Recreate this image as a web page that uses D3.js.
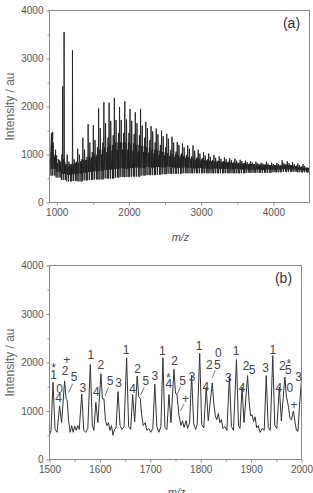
<!DOCTYPE html>
<html lang="en">
<head>
<meta charset="UTF-8">
<title>MALDI spectra</title>
<script src="https://cdn.jsdelivr.net/npm/d3@7/dist/d3.min.js"></script>
<style>
  body { margin: 0; background: #fff; }
  svg { font-family: "Liberation Sans", Arial, sans-serif; }
</style>
</head>
<body>
<svg width="313" height="493" id="main"></svg>
<script>
// ---- panel (a): full spectrum, one oligomer group every ~72.6 m/z ----
const groupMzA = [927, 999, 1072, 1145, 1217, 1290, 1362, 1435, 1507, 1580,
  1653, 1725, 1798, 1870, 1943, 2015, 2088, 2161, 2233, 2306,
  2378, 2451, 2524, 2596, 2669, 2741, 2814, 2887, 2959, 3032,
  3104, 3177, 3250, 3322, 3395, 3467, 3540, 3613, 3685, 3758,
  3830, 3903, 3976, 4048, 4121, 4193, 4266, 4339, 4411, 4484];
const peak1A = [1450, 980, 1000, 1000, 1050, 1120, 1350, 1630, 1610, 1960,
  2090, 2080, 2180, 1990, 2110, 1950, 1880, 1950, 1680, 1590,
  1540, 1500, 1430, 1370, 1260, 1230, 1190, 1190, 1100, 1050,
  1020, 990, 960, 940, 920, 910, 890, 870, 860, 850,
  830, 850, 830, 820, 880, 860, 840, 810, 800, 720];
const peak2A = [1250, 900, 900, 850, 900, 1000, 1100, 1250, 1300, 1550,
  1650, 1700, 1720, 1720, 1730, 1700, 1650, 1600, 1550, 1480,
  1420, 1380, 1330, 1250, 1200, 1150, 1120, 1080, 1020, 980,
  950, 930, 910, 900, 880, 870, 860, 840, 830, 820,
  810, 810, 800, 800, 820, 820, 800, 780, 760, 700];
const peak3A = [1100, 850, 800, 800, 850, 900, 950, 1050, 1150, 1250,
  1350, 1400, 1450, 1450, 1450, 1420, 1400, 1350, 1300, 1250,
  1200, 1150, 1100, 1060, 1020, 990, 960, 940, 920, 900,
  880, 870, 860, 850, 840, 830, 820, 810, 800, 790,
  790, 780, 780, 770, 790, 780, 770, 750, 730, 690];
const peak4A = [1000, 820, 780, 750, 800, 820, 880, 950, 1000, 1100,
  1150, 1200, 1250, 1250, 1250, 1230, 1200, 1180, 1150, 1100,
  1080, 1050, 1030, 1000, 980, 960, 940, 920, 900, 880,
  870, 860, 850, 840, 830, 820, 810, 800, 800, 790,
  780, 780, 770, 770, 790, 780, 760, 740, 720, 690];
const noiseA = [950, 880, 840, 800, 830, 860, 880, 920, 960, 1000,
  1050, 1080, 1100, 1100, 1100, 1080, 1060, 1050, 1040, 1020,
  1000, 980, 970, 950, 930, 920, 900, 890, 880, 870,
  860, 850, 840, 830, 820, 820, 810, 800, 800, 790,
  790, 780, 780, 770, 790, 780, 760, 740, 720, 690];
const lowA = [560, 520, 470, 440, 450, 440, 460, 470, 480, 480,
  500, 500, 520, 530, 530, 540, 540, 560, 570, 570,
  580, 590, 600, 600, 600, 610, 610, 610, 610, 610,
  610, 610, 610, 610, 610, 610, 610, 620, 620, 620,
  620, 620, 630, 630, 640, 640, 640, 630, 630, 620];
const low2A = [700, 640, 600, 580, 590, 600, 620, 640, 650, 660,
  680, 690, 700, 710, 700, 720, 730, 720, 740, 730,
  740, 730, 740, 730, 720, 730, 720, 710, 720, 710,
  700, 710, 700, 700, 690, 700, 690, 690, 680, 690,
  680, 690, 680, 690, 700, 690, 690, 680, 670, 650];
// peak pattern inside one group (offset from peak "1")
const offsetA = [-6, 0, 5, 13, 18, 23, 28, 34, 41, 46, 51, 54, 57, 62];
const levelA = ["low", "p1", "low2", "p4", "low", "p2", "noise", "low2", "noise", "low", "p4", "low2", "p3", "low"];
// isolated strong peaks at low mass
const spikeMz = [900, 944, 1083, 1102, 1218];
const spikeI = [1400, 1470, 2420, 3550, 3170];

// ---- panel (b): zoom 1500-2000 ----
const mzB = [1500, 1503, 1507, 1511, 1515, 1520, 1524, 1530, 1533, 1535, 1538, 1541, 1544, 1547, 1550,
  1553, 1556, 1559, 1564, 1568, 1572, 1576, 1581, 1585, 1588, 1592, 1596, 1602, 1605, 1608,
  1611, 1614, 1617, 1620, 1623, 1626, 1629, 1632, 1636, 1640, 1644, 1648, 1653, 1657, 1661,
  1665, 1669, 1674, 1677, 1680, 1683, 1686, 1690, 1693, 1697, 1701, 1705, 1709, 1713, 1717,
  1721, 1725, 1729, 1733, 1737, 1741, 1747, 1750, 1753, 1757, 1761, 1764, 1767, 1771, 1774,
  1778, 1782, 1786, 1790, 1793, 1798, 1802, 1806, 1811, 1815, 1819, 1823, 1826, 1829, 1832,
  1835, 1838, 1841, 1844, 1848, 1852, 1857, 1861, 1865, 1871, 1875, 1878, 1882, 1886, 1893,
  1896, 1899, 1902, 1905, 1908, 1911, 1914, 1918, 1922, 1926, 1930, 1934, 1938, 1943, 1947,
  1951, 1956, 1960, 1967, 1970, 1974, 1977, 1980, 1984, 1987, 1990, 1993, 1996, 2000];
const intB = [500, 600, 1590, 620, 560, 1100, 760, 1620, 1250, 1230, 800, 560, 700, 560, 690,
  600, 700, 620, 1350, 600, 560, 640, 1960, 700, 600, 1180, 760, 1770, 1250, 1250,
  800, 700, 760, 600, 700, 500, 620, 650, 1400, 700, 620, 680, 2100, 680, 620,
  1340, 780, 1720, 1300, 1260, 900, 700, 760, 600, 640, 560, 640, 1550, 680, 560,
  680, 2100, 660, 620, 1340, 760, 1860, 1370, 1330, 900, 700, 800, 660, 800, 640,
  760, 1740, 740, 620, 720, 2190, 720, 650, 1490, 800, 1200, 1580, 1150, 900, 820,
  950, 760, 820, 640, 680, 600, 1730, 680, 600, 2060, 700, 640, 1490, 760, 1730,
  1200, 900, 920, 780, 880, 650, 700, 560, 640, 600, 1730, 660, 600, 2140, 700,
  640, 1490, 800, 1700, 1300, 1100, 850, 820, 1000, 780, 600, 580, 1100, 1650];
// peak annotations: label, m/z, intensity of label centre
const labelTxt = ["*", "1", "+", "2", "5", "0", "4", "3", "1", "4", "2", "5", "3", "1", "4", "2", "5",
  "3", "1", "*", "4", "2", "5", "+", "3", "1", "4", "2", "0", "5", "3", "1", "4", "2", "5",
  "3", "1", "4", "2", "*", "5", "0", "+", "3"];
const labelMz = [1508, 1508, 1534, 1531, 1549, 1520, 1518, 1566, 1582, 1593, 1602, 1620, 1637, 1652, 1665, 1675, 1691,
  1709, 1724, 1736, 1737, 1748, 1764, 1770, 1783, 1797, 1810, 1817, 1835, 1833, 1855, 1870, 1882, 1890, 1902,
  1929, 1943, 1955, 1962, 1975, 1974, 1977, 1985, 1994];
const labelI = [2000, 1744, 2050, 1840, 1703, 1470, 1265, 1484, 2155, 1395, 1963, 1621, 1587, 2271, 1464, 1881, 1621,
  1724, 2250, 1790, 1553, 2032, 1621, 1259, 1703, 2339, 1498, 1963, 2202, 1963, 1690, 2237, 1484, 1929, 1860,
  1895, 2257, 1484, 1929, 2066, 1860, 1484, 1122, 1703];
// short leader strokes: [m/z, I] start -> end
const leaderFrom = [[1546, 1565], [1617, 1490], [1688, 1490], [1760, 1500], [1767, 1150], [1829, 1840]];
const leaderTo = [[1538, 1380], [1610, 1310], [1681, 1330], [1753, 1340], [1760, 1000], [1823, 1680]];

const tickColor = "#555", frameColor = "#8a8a8a";
const svg = d3.select("#main");

function buildA() {
  const pts = [];
  groupMzA.forEach((g, i) => {
    const lv = {low: lowA[i], low2: low2A[i], p1: peak1A[i], p2: peak2A[i], p3: peak3A[i],
      p4: peak4A[i], noise: noiseA[i]};
    offsetA.forEach((o, k) => pts.push([g + o, lv[levelA[k]]]));
  });
  spikeMz.forEach((m, i) => pts.push([m, spikeI[i]]));
  return pts.sort((a, b) => a[0] - b[0]);
}

function panel(cfg) {
  const x = d3.scaleLinear().domain(cfg.xDomain).range([cfg.left, cfg.right]);
  const y = d3.scaleLinear().domain([0, 4000]).range([cfg.bottom, cfg.top]);
  const g = svg.append("g");

  g.append("clipPath").attr("id", cfg.id)
    .append("rect").attr("x", cfg.left).attr("y", cfg.top)
    .attr("width", cfg.right - cfg.left).attr("height", cfg.bottom - cfg.top);

  g.append("path")
    .datum(cfg.data)
    .attr("clip-path", `url(#${cfg.id})`)
    .attr("fill", "none")
    .attr("stroke", cfg.stroke)
    .attr("stroke-width", cfg.strokeWidth)
    .attr("stroke-linejoin", "round")
    .attr("d", d3.line().x(d => x(d[0])).y(d => y(d[1])));

  // frame
  g.append("rect").attr("x", cfg.left).attr("y", cfg.top)
    .attr("width", cfg.right - cfg.left).attr("height", cfg.bottom - cfg.top)
    .attr("fill", "none").attr("stroke", frameColor).attr("stroke-width", 1);

  const style = a => a
    .call(s => s.select(".domain").remove())
    .call(s => s.selectAll("line").attr("stroke", frameColor))
    .call(s => s.selectAll("text").attr("fill", tickColor).attr("font-size", 10));

  g.append("g").attr("transform", `translate(0,${cfg.bottom})`)
    .call(d3.axisBottom(x).tickValues(cfg.xTicks).tickFormat(d3.format("d")).tickSize(3).tickPadding(3)).call(style);
  g.append("g").attr("transform", `translate(0,${cfg.bottom})`)
    .call(d3.axisBottom(x).tickValues(cfg.xMinor).tickFormat("").tickSize(2)).call(style);
  g.append("g").attr("transform", `translate(${cfg.left},0)`)
    .call(d3.axisLeft(y).tickValues([0, 1000, 2000, 3000, 4000]).tickFormat(d3.format("d")).tickSize(3).tickPadding(3)).call(style);
  g.append("g").attr("transform", `translate(${cfg.left},0)`)
    .call(d3.axisLeft(y).tickValues([500, 1500, 2500, 3500]).tickFormat("").tickSize(2)).call(style);

  g.append("text")
    .attr("transform", `translate(14,${(cfg.top + cfg.bottom) / 2}) rotate(-90)`)
    .attr("text-anchor", "middle").attr("fill", "#666").attr("font-size", 12)
    .text("Intensity / au");
  g.append("text")
    .attr("x", (cfg.left + cfg.right) / 2 + 1).attr("y", cfg.xTitleY)
    .attr("text-anchor", "middle").attr("fill", "#555").attr("font-size", 11)
    .attr("font-style", "italic").text("m/z");
  g.append("text")
    .attr("x", cfg.right - 18).attr("y", cfg.top + 17)
    .attr("text-anchor", "middle").attr("fill", "#333").attr("font-size", 14)
    .text(cfg.tag);
  return {x, y, g};
}

panel({id: "clipA", xDomain: [900, 4500], left: 49.5, right: 309.5, top: 10.5, bottom: 202.5,
  xTicks: [1000, 2000, 3000, 4000], xMinor: [1500, 2500, 3500], xTitleY: 241,
  data: buildA(), stroke: "#1e1e1e", strokeWidth: 0.9, tag: "(a)"});

const pb = panel({id: "clipB", xDomain: [1500, 2000], left: 49.5, right: 301.5, top: 265.5, bottom: 459.5,
  xTicks: [1500, 1600, 1700, 1800, 1900, 2000], xMinor: [1550, 1650, 1750, 1850, 1950], xTitleY: 496,
  data: mzB.map((m, i) => [m, intB[i]]), stroke: "#333", strokeWidth: 1, tag: "(b)"});

pb.g.append("g").selectAll("text")
  .data(labelTxt.map((t, i) => ({t, m: labelMz[i], v: labelI[i]})))
  .join("text")
  .attr("x", d => pb.x(d.m)).attr("y", d => pb.y(d.v))
  .attr("dy", d => d.t === "*" ? "0.75em" : "0.36em")
  .attr("text-anchor", "middle").attr("fill", "#444").attr("font-size", 12)
  .text(d => d.t);

pb.g.append("g").selectAll("line")
  .data(leaderFrom.map((f, i) => [f, leaderTo[i]]))
  .join("line")
  .attr("x1", d => pb.x(d[0][0])).attr("y1", d => pb.y(d[0][1]))
  .attr("x2", d => pb.x(d[1][0])).attr("y2", d => pb.y(d[1][1]))
  .attr("stroke", "#555").attr("stroke-width", 0.8);
</script>
</body>
</html>
